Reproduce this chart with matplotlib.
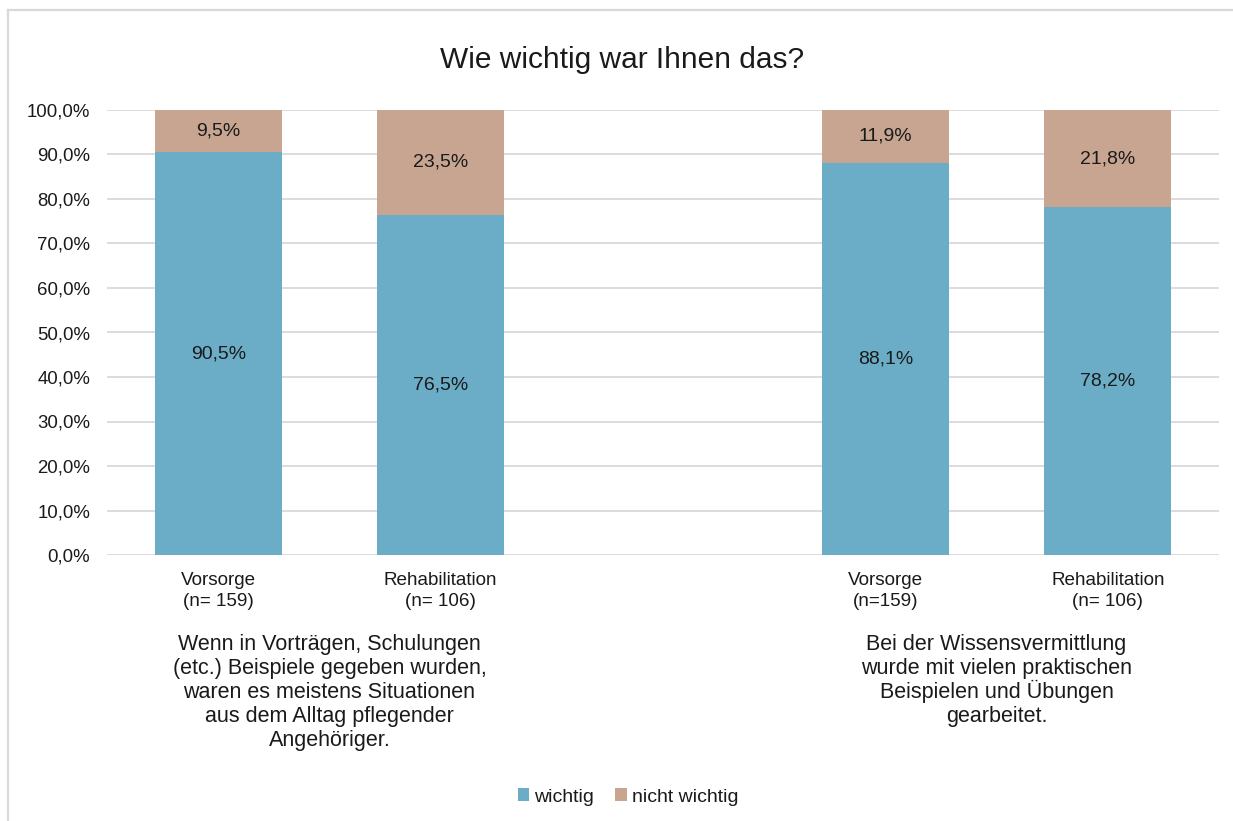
import matplotlib
matplotlib.use("Agg")
import matplotlib.pyplot as plt
from matplotlib.lines import Line2D
from matplotlib.patches import Patch
import matplotlib.transforms as mtransforms

plt.rcParams['font.family'] = ['Liberation Sans', 'DejaVu Sans']

# data
title = "Wie wichtig war Ihnen das?"
categories = ["Vorsorge\n(n= 159)", "Rehabilitation\n(n= 106)",
              "Vorsorge\n(n=159)", "Rehabilitation\n(n= 106)"]
positions = [0, 1, 3, 4]
wichtig = [90.5, 76.5, 88.1, 78.2]
nicht_wichtig = [9.5, 23.5, 11.9, 21.8]
series_names = ["wichtig", "nicht wichtig"]
group_texts = [
    "Wenn in Vorträgen, Schulungen\n(etc.) Beispiele gegeben wurden,\n"
    "waren es meistens Situationen\naus dem Alltag pflegender\nAngehöriger.",
    "Bei der Wissensvermittlung\nwurde mit vielen praktischen\n"
    "Beispielen und Übungen\ngearbeitet.",
]
group_centers = [0.5, 3.5]
yticks = [0, 10, 20, 30, 40, 50, 60, 70, 80, 90, 100]

c_blue = "#6BADC6"
c_tan = "#C8A590"
c_grid = "#D9D9D9"
c_text = "#1A1A1A"

W, H = 1233, 821
fig = plt.figure(figsize=(W / 100, H / 100), dpi=100)
fig.patch.set_facecolor("white")

# chart-area frame (top and left edges visible)
fig.add_artist(Line2D([8 / W, 1.0], [1 - 10.5 / H, 1 - 10.5 / H], color=c_grid, lw=1.6))
fig.add_artist(Line2D([8 / W, 8 / W], [0, 1 - 10.5 / H], color=c_grid, lw=1.6))

ax = fig.add_axes([107 / W, 266 / H, 1112 / W, 445 / H])
ax.set_xlim(-0.5, 4.5)
ax.set_ylim(0, 100)
for s in ax.spines.values():
    s.set_visible(False)
ax.set_yticks(yticks)
ax.set_yticklabels([f"{v:.1f}%".replace(".", ",") for v in yticks],
                   fontsize=13.4, color=c_text)
ax.yaxis.grid(True, color=c_grid, lw=1.3)
ax.set_axisbelow(True)
ax.tick_params(axis="y", length=0, pad=12)
ax.set_xticks(positions)
ax.set_xticklabels(categories, fontsize=13.6, color=c_text, linespacing=1.35)
ax.tick_params(axis="x", length=0, pad=12)

bw = 0.57
b1 = ax.bar(positions, wichtig, width=bw, color=c_blue, zorder=2)
b2 = ax.bar(positions, nicht_wichtig, width=bw, bottom=wichtig, color=c_tan, zorder=2)

for x, w, n in zip(positions, wichtig, nicht_wichtig):
    ax.text(x, w / 2, f"{w:.1f}%".replace(".", ","), ha="center", va="center",
            fontsize=14, color=c_text, zorder=3)
    ax.text(x, w + n / 2, f"{n:.1f}%".replace(".", ","), ha="center", va="center",
            fontsize=14, color=c_text, zorder=3)

# group descriptions below the category labels, one line at a time with even spacing
trans = mtransforms.blended_transform_factory(ax.transData, ax.transAxes)
line_step_px = 24.2
for xc, txt in zip(group_centers, group_texts):
    for i, line in enumerate(txt.split("\n")):
        off = mtransforms.ScaledTranslation(0, -i * line_step_px / 100, fig.dpi_scale_trans)
        ax.text(xc, -0.2125, line, transform=trans + off, ha="center", va="baseline",
                fontsize=15.5, color=c_text)

fig.text(622 / W, 1 - 60 / H, title, ha="center", va="center", fontsize=21.5, color=c_text)

handles = [Patch(facecolor=c_blue), Patch(facecolor=c_tan)]
fig.legend(handles, series_names, loc="center", bbox_to_anchor=(628 / W, 1 - 797 / H),
           ncol=2, frameon=False, fontsize=14, handlelength=0.6, handleheight=0.6,
           handletextpad=0.25, columnspacing=1.1, labelcolor=c_text)

fig.savefig("out.png", dpi=100, facecolor="white")
